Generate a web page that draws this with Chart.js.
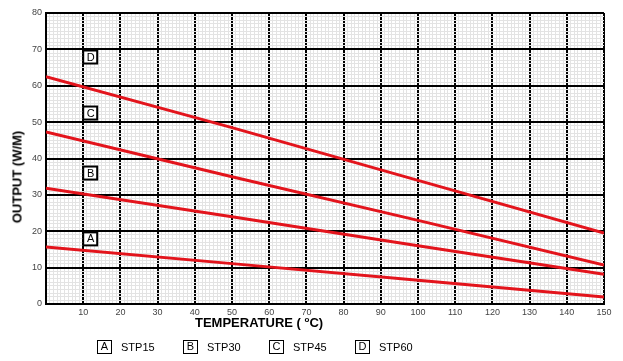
<!DOCTYPE html>
<html>
<head>
<meta charset="utf-8">
<script src="https://cdn.jsdelivr.net/npm/chart.js@4/dist/chart.umd.min.js"></script>
<style>
  html, body { margin: 0; padding: 0; background: #fff; }
  #wrap { position: relative; width: 623px; height: 361px; font-family: "Liberation Sans", Arial, sans-serif; }
  canvas { position: absolute; left: 0; top: 0; }
  .ytitle { position: absolute; left: 17px; top: 177px; transform: translate(-50%, -50%) rotate(-90deg);
            font-weight: bold; font-size: 13px; white-space: nowrap; color: #000; }
  .xtitle { position: absolute; left: 195px; top: 315px; font-weight: bold; font-size: 13px; white-space: nowrap; color: #000; }
  .xtitle sup { font-size: 8px; }
  .legend { position: absolute; left: 97px; top: 340px; display: flex; font-size: 11px; color: #000; }
  .legend .item { width: 86px; display: flex; align-items: center; }
  .legend .box { box-sizing: border-box; width: 15px; height: 14px; border: 1.5px solid #000; text-align: center;
                 line-height: 11px; margin-right: 9px; }
</style>
</head>
<body>
<div id="wrap">
  <canvas id="chart" width="623" height="361"></canvas>
  <div class="ytitle">OUTPUT (W/M)</div>
  <div class="xtitle">TEMPERATURE ( <sup>o</sup>C)</div>
  <div class="legend" id="legend"></div>
</div>
<script>
// valores (saída W/m x temperatura °C)
const temperaturas = [0, 50, 100, 150];
const serieA = [15.7, 11.1, 6.5, 1.9];
const serieB = [31.8, 24.0, 16.0, 8.2];
const serieC = [47.3, 35.0, 23.0, 10.7];
const serieD = [62.5, 48.5, 34.0, 19.5];

const letras = ['A', 'B', 'C', 'D'];
const nomes = ['STP15', 'STP30', 'STP45', 'STP60'];
// posição das caixinhas de letra (em unidades do gráfico)
const letraX = [10, 10, 10, 10];
const letraY = [17.9, 36, 52.5, 67.9];

const VERMELHO = '#e3141c';

const series = [serieA, serieB, serieC, serieD];

document.getElementById('legend').innerHTML = letras.map((l, i) =>
  `<div class="item"><span class="box">${l}</span>${nomes[i]}</div>`).join('');

const caixasLetras = {
  id: 'caixasLetras',
  afterDatasetsDraw(chart) {
    const { ctx, scales: { x, y } } = chart;
    ctx.save();
    letras.forEach((l, i) => {
      const px = x.getPixelForValue(letraX[i]);
      const py = y.getPixelForValue(letraY[i]);
      ctx.fillStyle = '#fff';
      ctx.fillRect(px, py - 6.5, 14, 13);
      ctx.strokeStyle = '#000';
      ctx.lineWidth = 2;
      ctx.strokeRect(px, py - 6.5, 14, 13);
      ctx.fillStyle = '#000';
      ctx.font = '11px "Liberation Sans", Arial, sans-serif';
      ctx.textAlign = 'center';
      ctx.textBaseline = 'middle';
      ctx.fillText(l, px + 7.5, py + 0.5);
    });
    ctx.restore();
  }
};

const corGrade = c => (c.tick && c.tick.value % 10 === 0) ? '#000' : '#e3e3e3';
const larguraGrade = c => (c.tick && c.tick.value % 10 === 0) ? 2 : 1;
const fonteTick = { family: '"Liberation Sans Narrow", "Liberation Sans", Arial, sans-serif', size: 9 };

new Chart(document.getElementById('chart'), {
  type: 'line',
  data: {
    datasets: series.map((s, i) => ({
      label: nomes[i],
      data: temperaturas.map((t, j) => ({ x: t, y: s[j] })),
      borderColor: VERMELHO,
      borderWidth: 3,
      pointRadius: 0,
      tension: 0
    }))
  },
  options: {
    responsive: false,
    animation: false,
    layout: { padding: { left: 0, right: 19, top: 13, bottom: 41 } },
    plugins: { legend: { display: false }, tooltip: { enabled: false } },
    scales: {
      x: {
        type: 'linear', min: 0, max: 150,
        afterFit: s => { s.height = 16; },
        border: { color: '#000', width: 2 },
        grid: { color: corGrade, lineWidth: larguraGrade, drawTicks: false },
        ticks: {
          stepSize: 1, autoSkip: false, maxTicksLimit: 200, maxRotation: 0, padding: 3,
          color: '#444', font: fonteTick,
          callback: v => (v % 10 === 0 && v !== 0) ? v : ''
        }
      },
      y: {
        min: 0, max: 80,
        afterFit: s => { s.width = 46; },
        border: { color: '#000', width: 2 },
        grid: { color: corGrade, lineWidth: larguraGrade, drawTicks: false },
        ticks: {
          stepSize: 1, autoSkip: false, maxTicksLimit: 200, padding: 4,
          color: '#444', font: fonteTick,
          callback: v => v % 10 === 0 ? v : ''
        }
      }
    }
  },
  plugins: [caixasLetras]
});
</script>
</body>
</html>
